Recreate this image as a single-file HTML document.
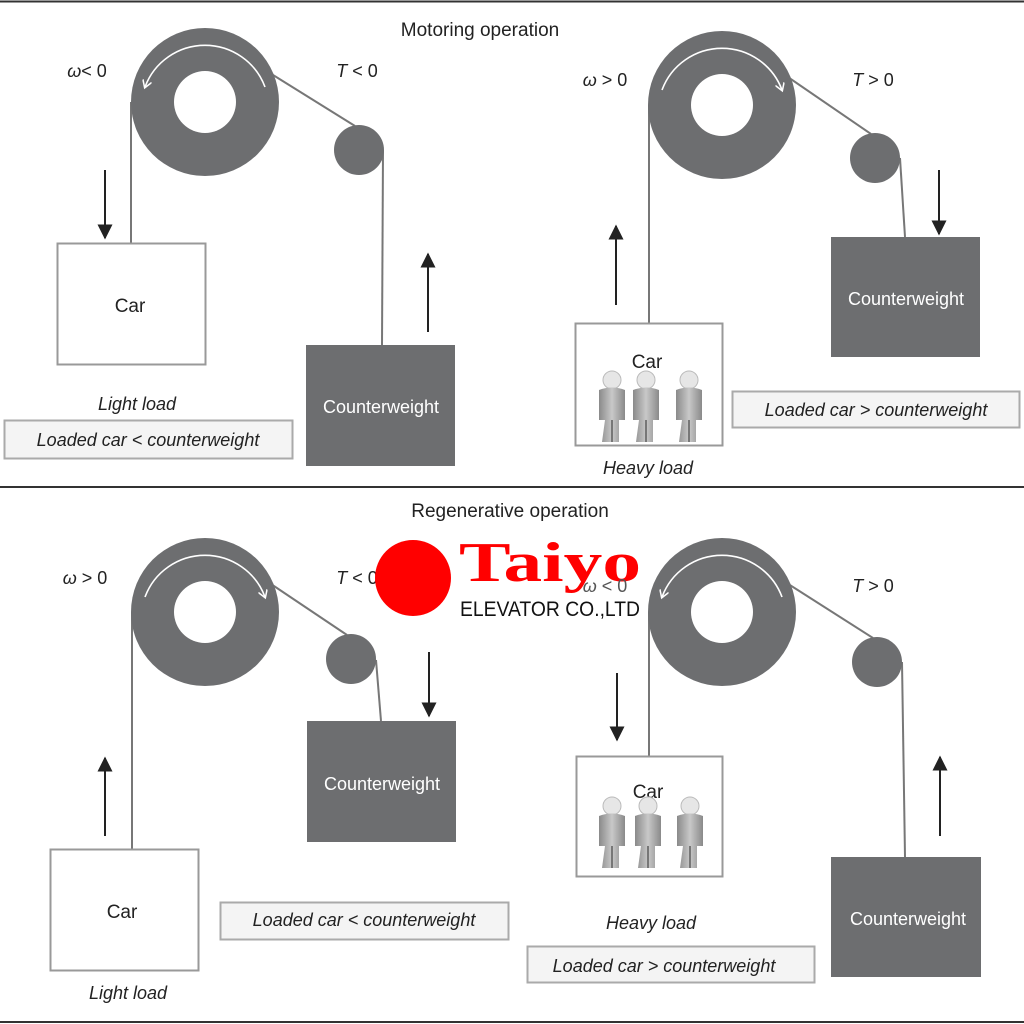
<!DOCTYPE html>
<html><head><meta charset="utf-8"><style>
html,body{margin:0;padding:0;background:#fff;}
svg{display:block;}
text{font-family:"Liberation Sans",Arial,sans-serif;fill:#222;}
</style></head><body>
<svg width="1024" height="1024" viewBox="0 0 1024 1024" xmlns="http://www.w3.org/2000/svg">
<defs>
<marker id="ah" viewBox="0 0 10 10" refX="9" refY="5" markerWidth="7.5" markerHeight="7.5" orient="auto-start-reverse"><path d="M0,0 L10,5 L0,10 z" fill="#222"/></marker>
<marker id="wh" viewBox="0 0 10 10" refX="7" refY="5" markerWidth="6" markerHeight="6" orient="auto"><path d="M0,0 L8,5 L0,10" fill="none" stroke="#fff" stroke-width="1.6"/></marker>
<linearGradient id="pg" x1="0" x2="1"><stop offset="0" stop-color="#8a8a8a"/><stop offset="0.5" stop-color="#c8c8c8"/><stop offset="1" stop-color="#8a8a8a"/></linearGradient>
<g id="person">
<circle cx="0" cy="0" r="9" fill="#e6e6e6" stroke="#bbb"/>
<path d="M-13,10 Q0,5 13,10 L13,40 L7,40 L7,62 L-10,62 L-7,40 L-13,40 Z" fill="url(#pg)"/>
<rect x="-1" y="40" width="2" height="22" fill="#777"/>
</g>
</defs>
<rect width="1024" height="1024" fill="#fff"/>
<line x1="0" y1="1.5" x2="1024" y2="1.5" stroke="#333" stroke-width="2"/>
<line x1="0" y1="487" x2="1024" y2="487" stroke="#333" stroke-width="2"/>
<line x1="0" y1="1022" x2="1024" y2="1022" stroke="#333" stroke-width="2"/>

<g font-size="19">
<text x="480" y="36" text-anchor="middle">Motoring operation</text>
<text x="510" y="517" text-anchor="middle">Regenerative operation</text>
</g>

<!-- Panel TL -->
<g stroke="#777" stroke-width="2" fill="none">
<line x1="131" y1="102" x2="131" y2="243"/>
<line x1="265" y1="70" x2="355" y2="126"/>
<line x1="383" y1="150" x2="382" y2="345"/>
</g>
<circle cx="205" cy="102" r="74" fill="#6d6e70"/><circle cx="205" cy="102" r="31" fill="#fff"/>
<circle cx="359" cy="150" r="25" fill="#6d6e70"/>
<path d="M265,87 A64,64 0 0 0 145,87" fill="none" stroke="#fff" stroke-width="1.6" marker-end="url(#wh)"/>
<rect x="57.5" y="243.5" width="148" height="121" fill="#fff" stroke="#999" stroke-width="2"/>
<rect x="306" y="345" width="149" height="121" fill="#6d6e70"/>
<line x1="105" y1="170" x2="105" y2="238" stroke="#222" stroke-width="2" marker-end="url(#ah)"/>
<line x1="428" y1="332" x2="428" y2="254" stroke="#222" stroke-width="2" marker-end="url(#ah)"/>
<text x="87" y="77" font-size="18" text-anchor="middle"><tspan font-style="italic">ω</tspan>&lt; 0</text>
<text x="357" y="77" font-size="18" text-anchor="middle"><tspan font-style="italic">T</tspan> &lt; 0</text>
<text x="130" y="312" font-size="19" text-anchor="middle">Car</text>
<text x="381" y="413" font-size="18" text-anchor="middle" style="fill:#fff">Counterweight</text>
<text x="137" y="410" font-size="18" text-anchor="middle" font-style="italic">Light load</text>
<rect x="4.5" y="420.5" width="288" height="38" fill="#f4f4f4" stroke="#aaa" stroke-width="2"/>
<text x="148" y="446" font-size="18" text-anchor="middle" font-style="italic">Loaded car &lt; counterweight</text>

<!-- Panel TR -->
<g stroke="#777" stroke-width="2" fill="none">
<line x1="649" y1="105" x2="649" y2="323"/>
<line x1="782" y1="73" x2="871" y2="134"/>
<line x1="900" y1="158" x2="905" y2="237"/>
</g>
<circle cx="722" cy="105" r="74" fill="#6d6e70"/><circle cx="722" cy="105" r="31" fill="#fff"/>
<circle cx="875" cy="158" r="25" fill="#6d6e70"/>
<path d="M662,90 A64,64 0 0 1 782,90" fill="none" stroke="#fff" stroke-width="1.6" marker-end="url(#wh)"/>
<rect x="575.5" y="323.5" width="147" height="122" fill="#fff" stroke="#999" stroke-width="2"/>
<rect x="831" y="237" width="149" height="120" fill="#6d6e70"/>
<line x1="616" y1="305" x2="616" y2="226" stroke="#222" stroke-width="2" marker-end="url(#ah)"/>
<line x1="939" y1="170" x2="939" y2="234" stroke="#222" stroke-width="2" marker-end="url(#ah)"/>
<text x="605" y="86" font-size="18" text-anchor="middle"><tspan font-style="italic">ω</tspan> &gt; 0</text>
<text x="873" y="86" font-size="18" text-anchor="middle"><tspan font-style="italic">T</tspan> &gt; 0</text>
<text x="647" y="368" font-size="19" text-anchor="middle">Car</text>
<use href="#person" x="612" y="380"/><use href="#person" x="646" y="380"/><use href="#person" x="689" y="380"/>
<text x="906" y="305" font-size="18" text-anchor="middle" style="fill:#fff">Counterweight</text>
<text x="648" y="474" font-size="18" text-anchor="middle" font-style="italic">Heavy load</text>
<rect x="732.5" y="391.5" width="287" height="36" fill="#f4f4f4" stroke="#aaa" stroke-width="2"/>
<text x="876" y="416" font-size="18" text-anchor="middle" font-style="italic">Loaded car &gt; counterweight</text>

<!-- Panel BL -->
<g stroke="#777" stroke-width="2" fill="none">
<line x1="132" y1="612" x2="132" y2="849"/>
<line x1="265" y1="580" x2="347" y2="635"/>
<line x1="376" y1="660" x2="381" y2="721"/>
</g>
<circle cx="205" cy="612" r="74" fill="#6d6e70"/><circle cx="205" cy="612" r="31" fill="#fff"/>
<circle cx="351" cy="659" r="25" fill="#6d6e70"/>
<path d="M145,597 A64,64 0 0 1 265,597" fill="none" stroke="#fff" stroke-width="1.6" marker-end="url(#wh)"/>
<rect x="50.5" y="849.5" width="148" height="121" fill="#fff" stroke="#999" stroke-width="2"/>
<rect x="307" y="721" width="149" height="121" fill="#6d6e70"/>
<line x1="105" y1="836" x2="105" y2="758" stroke="#222" stroke-width="2" marker-end="url(#ah)"/>
<line x1="429" y1="652" x2="429" y2="716" stroke="#222" stroke-width="2" marker-end="url(#ah)"/>
<text x="85" y="584" font-size="18" text-anchor="middle"><tspan font-style="italic">ω</tspan> &gt; 0</text>
<text x="357" y="584" font-size="18" text-anchor="middle"><tspan font-style="italic">T</tspan> &lt; 0</text>
<text x="122" y="918" font-size="19" text-anchor="middle">Car</text>
<text x="382" y="790" font-size="18" text-anchor="middle" style="fill:#fff">Counterweight</text>
<text x="128" y="999" font-size="18" text-anchor="middle" font-style="italic">Light load</text>
<rect x="220.5" y="902.5" width="288" height="37" fill="#f4f4f4" stroke="#aaa" stroke-width="2"/>
<text x="364" y="926" font-size="18" text-anchor="middle" font-style="italic">Loaded car &lt; counterweight</text>

<!-- Panel BR -->
<g stroke="#777" stroke-width="2" fill="none">
<line x1="649" y1="612" x2="649" y2="756"/>
<line x1="782" y1="580" x2="873" y2="638"/>
<line x1="902" y1="662" x2="905" y2="857"/>
</g>
<circle cx="722" cy="612" r="74" fill="#6d6e70"/><circle cx="722" cy="612" r="31" fill="#fff"/>
<circle cx="877" cy="662" r="25" fill="#6d6e70"/>
<path d="M782,597 A64,64 0 0 0 662,597" fill="none" stroke="#fff" stroke-width="1.6" marker-end="url(#wh)"/>
<rect x="576.5" y="756.5" width="146" height="120" fill="#fff" stroke="#999" stroke-width="2"/>
<rect x="831" y="857" width="150" height="120" fill="#6d6e70"/>
<line x1="617" y1="673" x2="617" y2="740" stroke="#222" stroke-width="2" marker-end="url(#ah)"/>
<line x1="940" y1="836" x2="940" y2="757" stroke="#222" stroke-width="2" marker-end="url(#ah)"/>
<text x="873" y="592" font-size="18" text-anchor="middle"><tspan font-style="italic">T</tspan> &gt; 0</text>
<text x="648" y="798" font-size="19" text-anchor="middle">Car</text>
<use href="#person" x="612" y="806"/><use href="#person" x="648" y="806"/><use href="#person" x="690" y="806"/>
<text x="908" y="925" font-size="18" text-anchor="middle" style="fill:#fff">Counterweight</text>
<text x="651" y="929" font-size="18" text-anchor="middle" font-style="italic">Heavy load</text>
<rect x="527.5" y="946.5" width="287" height="36" fill="#f4f4f4" stroke="#aaa" stroke-width="2"/>
<text x="664" y="972" font-size="18" text-anchor="middle" font-style="italic">Loaded car &gt; counterweight</text>

<!-- Logo -->
<circle cx="413" cy="578" r="38" fill="#ff0000"/>
<text x="459" y="581" font-size="56" font-weight="bold" textLength="182" lengthAdjust="spacingAndGlyphs" style="fill:#ff0000;font-family:'Liberation Serif',serif">Taiyo</text>
<text x="605" y="592" font-size="18" text-anchor="middle" style="fill:#555"><tspan font-style="italic">ω</tspan> &lt; 0</text>
<text x="460" y="616" font-size="21" textLength="180" lengthAdjust="spacingAndGlyphs" style="fill:#111">ELEVATOR CO.,LTD</text>
</svg>
</body></html>
